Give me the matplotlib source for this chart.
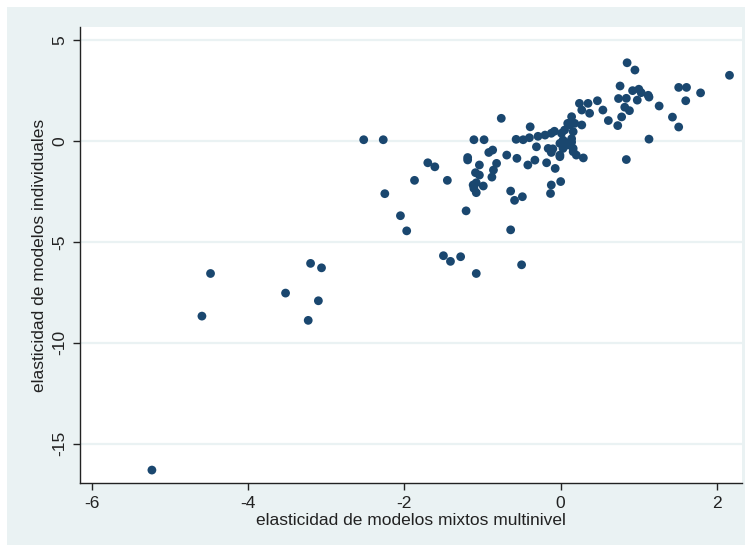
import matplotlib.pyplot as plt
from matplotlib.patches import Rectangle

# elasticities: mixed multilevel models (x) vs individual models (y)
mixed = [
    -5.23, -4.59, -4.48, -3.52, -3.23, -3.20, -3.10, -3.06,
    -2.52, -2.27, -2.25, -2.05, -1.97, -1.87, -1.70, -1.61, -1.45,
    -1.50, -1.41, -1.28, -1.08, -1.21, -1.11, -0.98,
    -1.19, -1.19, -1.04, -1.09, -1.04,
    -1.12, -1.08, -0.99, -1.11, -1.08,
    -0.92, -0.87, -0.82, -0.86, -0.88, -0.76, -0.69,
    -0.64, -0.59, -0.49, -0.64, -0.50, -0.56, -0.42, -0.33, -0.39, -0.31,
    -0.18, -0.07, -0.01, -0.12, -0.13, 0.00, -0.16, -0.10, -0.12,
    -0.57, -0.48, -0.40, -0.29, -0.20, -0.12, -0.08,
    0.01, 0.05, 0.16, 0.03, 0.14, 0.09, -0.01, -0.01, 0.16, 0.20, 0.29,
    0.05, 0.14, 0.03, 0.16,
    0.09, 0.18, 0.12, 0.27, 0.14, 0.24, 0.35, 0.27, 0.37, 0.47, 0.54,
    0.61, 0.73, 0.78, 0.76, 0.85, 0.95, 0.74, 0.84, 0.82, 0.88,
    0.92, 1.00, 1.03, 1.12, 1.13, 0.98, 1.13, 0.84,
    1.26, 1.43, 1.51, 1.51, 1.61, 1.60, 1.79, 2.16,
]
individual = [
    -16.30, -8.68, -6.57, -7.54, -8.89, -6.07, -7.92, -6.29,
    0.05, 0.05, -2.62, -3.71, -4.46, -1.96, -1.09, -1.29, -1.96,
    -5.69, -5.97, -5.74, -6.57, -3.47, 0.05, 0.05,
    -0.83, -0.95, -1.20, -1.58, -1.70,
    -2.19, -2.08, -2.24, -2.36, -2.57,
    -0.58, -0.46, -1.12, -1.45, -1.80, 1.11, -0.71,
    -2.49, -2.95, -2.77, -4.41, -6.14, -0.87, -1.20, -0.96, 0.69, -0.30,
    -1.09, -1.37, -0.79, -2.19, -2.61, -2.02, -0.38, -0.40, -0.58,
    0.07, 0.05, 0.15, 0.22, 0.28, 0.37, 0.47,
    0.37, 0.53, 0.45, 0.03, 0.10, -0.21, -0.13, -0.71, -0.54, -0.71, -0.85,
    -0.05, -0.07, -0.38, -0.38,
    0.86, 0.86, 0.78, 0.78, 1.19, 1.85, 1.85, 1.52, 1.36, 1.98, 1.52,
    1.00, 0.75, 1.18, 2.71, 3.86, 3.50, 2.09, 2.10, 1.66, 1.49,
    2.48, 2.55, 2.38, 2.25, 2.16, 2.01, 0.08, -0.93,
    1.72, 1.17, 0.68, 2.64, 2.64, 1.98, 2.37, 3.24,
]
xticks = [-6, -4, -2, 0, 2]
yticks = [-15, -10, -5, 0, 5]

BG = '#EAF2F3'
NAVY = '#1A476F'
INK = '#222222'

plt.rcParams['font.family'] = ['Liberation Sans', 'DejaVu Sans']

fig = plt.figure(figsize=(7.5, 5.52), dpi=100)
fig.patch.set_facecolor('white')
# light graph region with a thin white border round it
fig.patches.append(Rectangle((7 / 750, 7 / 552), 738 / 750, 538 / 552,
                             transform=fig.transFigure, facecolor=BG,
                             edgecolor='none', zorder=-10))

ax = fig.add_axes([80 / 750, 69 / 552, 662 / 750, 456 / 552])
ax.set_zorder(1)
ax.set_facecolor('white')
ax.scatter(mixed, individual, s=40, color=NAVY, edgecolors='none', zorder=3)

ax.set_xlim(-6.15, 2.32)
ax.set_ylim(-16.94, 5.63)
ax.set_xticks(xticks)
ax.set_yticks(yticks)
ax.set_xticklabels([str(t) for t in xticks], fontsize=12.5)
ax.set_yticklabels([str(t) for t in yticks], fontsize=12.5, rotation=90, va='center')
for t in yticks:
    ax.axhline(t, color=BG, lw=1.6, zorder=1)

for side in ['top', 'right']:
    ax.spines[side].set_visible(False)
for side in ['left', 'bottom']:
    ax.spines[side].set_color(INK)
    ax.spines[side].set_linewidth(1.0)
ax.tick_params(direction='out', length=5, width=1, colors=INK, pad=4)

ax.set_xlabel('elasticidad de modelos mixtos multinivel', fontsize=12.5, color=INK, labelpad=2)
ax.set_ylabel('elasticidad de modelos individuales', fontsize=12.5, color=INK, labelpad=4)

fig.savefig('out.png', dpi=100, facecolor=fig.get_facecolor())
